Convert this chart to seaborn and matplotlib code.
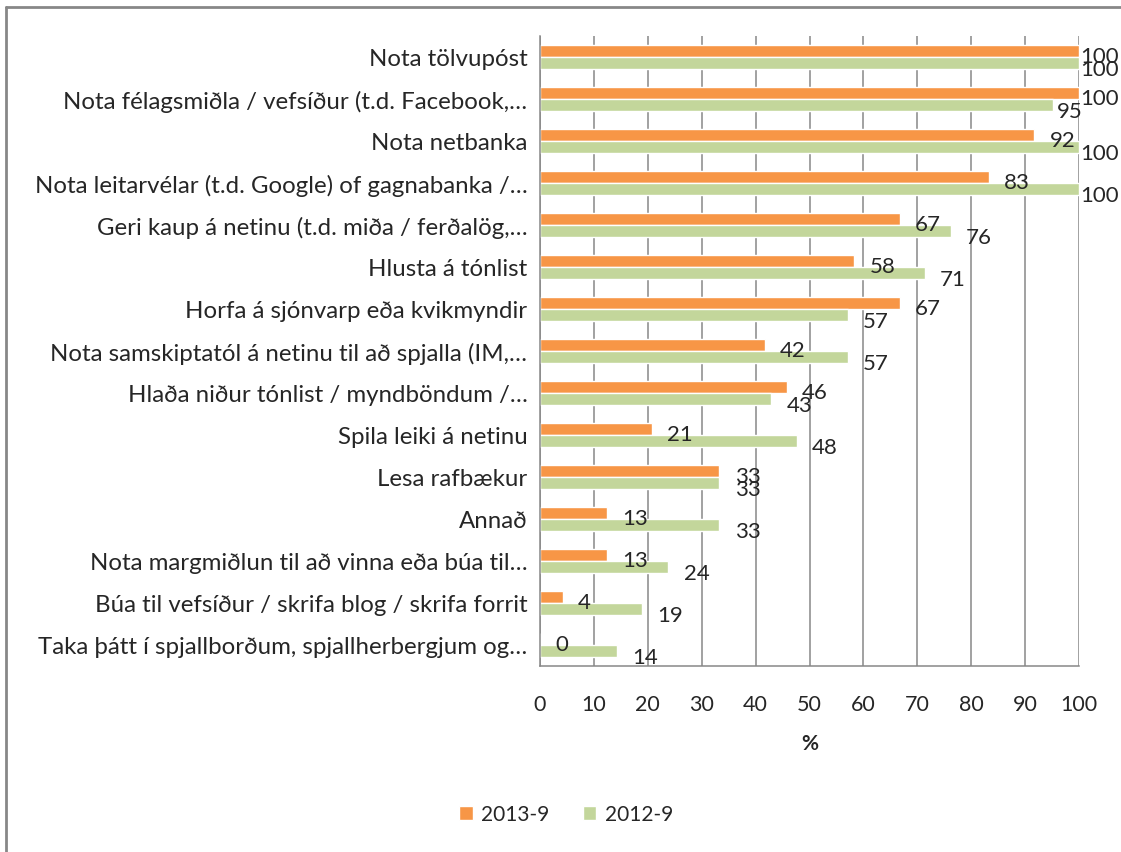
import numpy as np
import pandas as pd
import matplotlib.pyplot as plt
import seaborn as sns
from matplotlib.lines import Line2D

categories = [
    "Nota tölvupóst",
    "Nota félagsmiðla / vefsíður (t.d. Facebook,…",
    "Nota netbanka",
    "Nota leitarvélar (t.d. Google) of gagnabanka /…",
    "Geri kaup á netinu (t.d. miða / ferðalög,…",
    "Hlusta á tónlist",
    "Horfa á sjónvarp eða kvikmyndir",
    "Nota samskiptatól á netinu til að spjalla (IM,…",
    "Hlaða niður tónlist / myndböndum /…",
    "Spila leiki á netinu",
    "Lesa rafbækur",
    "Annað",
    "Nota margmiðlun til að vinna eða búa til…",
    "Búa til vefsíður / skrifa blog / skrifa forrit",
    "Taka þátt í spjallborðum, spjallherbergjum og…",
]
series_names = ["2013-9", "2012-9"]
values_2013 = [100, 100, 91.7, 83.3, 66.7, 58.3, 66.7, 41.7, 45.8, 20.8, 33.3, 12.5, 12.5, 4.2, 0]
values_2012 = [100, 95.2, 100, 100, 76.2, 71.4, 57.1, 57.1, 42.9, 47.6, 33.3, 33.3, 23.8, 19.0, 14.3]
x_ticks = list(range(0, 101, 10))
colors = ["#F79646", "#C3D69B"]

df = pd.DataFrame({
    "cat": categories * 2,
    "val": values_2013 + values_2012,
    "series": [series_names[0]] * len(categories) + [series_names[1]] * len(categories),
})

sns.set_style("white")
plt.rcParams["font.family"] = ["Lato", "DejaVu Sans"]
FS = 15

fig = plt.figure(figsize=(11.21, 8.53), dpi=100)
ax = fig.add_axes([540 / 1121, 1 - 667 / 853, 539 / 1121, 630 / 853])

sns.barplot(data=df, y="cat", x="val", hue="series", order=categories,
            hue_order=series_names, palette=colors, orient="h", width=0.58,
            saturation=1, ax=ax, legend=True)

grid_c = "#878787"
ax.set_xlim(0, 100)
ax.set_xticks(x_ticks)
ax.set_xticklabels([str(t) for t in x_ticks], fontsize=FS + 0.5)
ax.xaxis.grid(True, color=grid_c, linewidth=1.1)
ax.set_axisbelow(True)
ax.tick_params(axis="x", direction="out", length=6, width=1.1, color=grid_c, pad=14)
ax.tick_params(axis="y", which="major", length=0, pad=9, labelsize=17.3)
ax.set_yticks(np.arange(-0.5, len(categories) + 0.5, 1), minor=True)
ax.tick_params(axis="y", which="minor", direction="out", length=6, width=1.1, color=grid_c)
ax.set_xlabel("%", fontsize=FS, fontweight="bold", labelpad=14)
ax.set_ylabel("")
for s in ["top", "right"]:
    ax.spines[s].set_visible(False)
for s in ["left", "bottom"]:
    ax.spines[s].set_color(grid_c)
    ax.spines[s].set_linewidth(1.1)

# data labels, rounded half up like Excel
for cont in ax.containers:
    for bar in cont:
        v = bar.get_width()
        yc = bar.get_y() + bar.get_height() / 2
        if v >= 99.5:
            dx = 1
        elif v >= 94:
            dx = 3
        else:
            dx = 11
        ax.annotate(str(int(np.floor(v + 0.5))), xy=(v, yc), xytext=(dx, -4),
                    textcoords="offset points", va="center", ha="left",
                    fontsize=16, annotation_clip=False)

handles, labels = ax.get_legend_handles_labels()
ax.get_legend().remove()
fig.legend(handles, labels, loc="center", bbox_to_anchor=(566 / 1121, 1 - 815 / 853),
           ncol=2, frameon=False, fontsize=FS, handlelength=0.65, handleheight=0.65,
           handletextpad=0.4, columnspacing=1.6)

# chart area border (only top and left visible)
fig.add_artist(Line2D([6 / 1121, 1], [1 - 8 / 853, 1 - 8 / 853], transform=fig.transFigure,
                      color=grid_c, linewidth=2))
fig.add_artist(Line2D([6 / 1121, 6 / 1121], [0, 1 - 8 / 853], transform=fig.transFigure,
                      color=grid_c, linewidth=2))

fig.savefig("out.png", dpi=100)
